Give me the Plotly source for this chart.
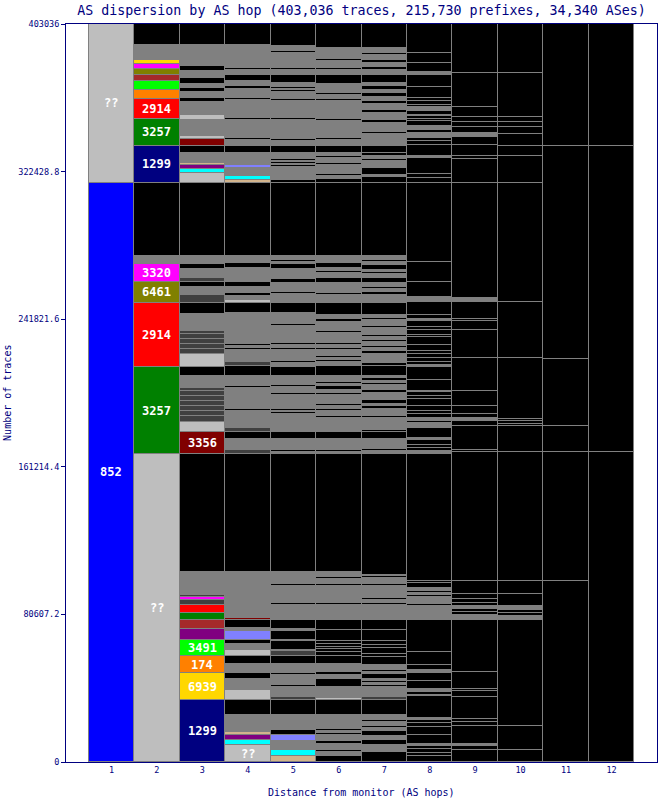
import plotly.graph_objects as go

# ---------------- data (traces per AS segment, bottom -> top, per hop) ----------------
hops = list(range(1, 13))
hop_tick_labels = [str(h) for h in hops]
total_traces = 403036
y_tick_values = [0, 80607.2, 161214.4, 241821.6, 322428.8, 403036]
y_tick_labels = ["0", "80607.2", "161214.4", "241821.6", "322428.8", "403036"]

hop1 = [(316260, "852"), (86780, "??")]

hop2 = [(168360, "??"), (47100, "3257"), (35310, "2914"), (11300, "6461"), (9715, "3320"),
        (1092, "small"), (546, "dark"), (3000, "small"), (39840, "other"),
        (20360, "1299"), (14410, "3257"), (10915, "2914"), (5240, "174"), (4585, "3491"),
        (3600, "brown"), (3275, "6461"), (2400, "3320"), (2183, "6939"), (1255, "small"),
        (546, "dark"), (6550, "small"), (11600, "other")]

hop3 = [(33730, "1299"), (14735, "6939"), (9496, "174"), (8514, "3491"), (6003, "purple"),
        (4912, "brown"), (4202, "3257"), (3984, "2914"), (3111, "dark"), (1255, "3320"),
        (1474, "dark"), (546, "6461"), (11843, "small"), (64563, "other"),
        (11843, "3356"), (5621, "??"),
        (3275, "dark"), (2729, "dark"), (2729, "dark"), (2729, "dark"), (2729, "dark"),
        (2729, "dark"), (1637, "dark"),
        (6167, "small"), (4912, "other"), (7477, "??"),
        (2729, "dark"), (2729, "dark"), (2729, "dark"), (2729, "dark"), (1255, "dark"),
        (9660, "small"), (6167, "other"), (4202, "dark"), (4530, "small"), (2729, "other"),
        (2019, "dark"), (546, "??"), (4202, "small"), (2620, "other"), (4639, "small"),
        (39840, "other"),
        (5621, "??"), (2019, "cyan"), (2183, "purple"), (928, "tan"), (5785, "small"),
        (3820, "other"), (3657, "3356"), (1801, "??"), (8568, "small"), (2729, "??"),
        (7259, "small"), (2019, "other"), (3275, "small"), (2183, "other"), (2183, "small"),
        (3275, "other"), (3820, "small"), (2729, "other"), (11461, "small"), (11600, "other")]

hop4 = [(9278, "??"), (2729, "cyan"), (2729, "purple"), (1910, "tan"), (819, "small"),
        (546, "dark"), (7913, "small"), (7804, "other"), (5567, "??"), (6276, "small"),
        (3111, "other"), (5075, "small"), (3984, "other"), (3275, "??"), (3657, "small"),
        (2183, "other"), (4912, "slate"), (1474, "small"), (4530, "other"), (819, "3356"),
        (3820, "small"), (546, "??"), (3275, "small"), (546, "dark"), (3820, "small"),
        (546, "dark"), (12661, "small"), (64563, "other"),
        (2183, "dark"), (546, "??"), (5294, "small"), (3711, "other"), (2292, "dark"),
        (9060, "small"), (1092, "other"), (2019, "small"), (546, "dark"), (9278, "small"),
        (1092, "other"), (5458, "small"), (5075, "other"), (2565, "dark"), (6549, "small"),
        (1092, "other"), (819, "small"), (1092, "other"), (17027, "small"), (5785, "other"),
        (1474, "??"), (2183, "small"), (1364, "other"), (3547, "small"), (2729, "other"),
        (7641, "small"), (2565, "other"), (3984, "small"), (39840, "other"),
        (1801, "tan"), (2183, "cyan"), (4366, "small"), (1637, "slate"), (6549, "small"),
        (3820, "other"), (3111, "small"), (1092, "other"), (9824, "small"), (1092, "other"),
        (9824, "small"), (1092, "other"), (4912, "small"), (1364, "other"), (3002, "small"),
        (3002, "other"), (3002, "small"), (1092, "other"), (12553, "small"), (11600, "other")]

hop5 = [(3275, "tan"), (3275, "cyan"), (5185, "small"), (3002, "slate"), (2729, "other"),
        (8459, "small"), (7804, "other"), (1746, "dark"), (5458, "small"), (1092, "other"),
        (5730, "small"), (1092, "other"), (4748, "small"), (4148, "other"), (2729, "dark"),
        (928, "??"), (4912, "other"), (546, "small"), (4639, "other"), (1092, "small"),
        (5185, "other"), (8186, "small"), (1092, "other"), (9278, "small"), (1092, "other"),
        (6385, "small"), (64563, "other"),
        (819, "small"), (1092, "other"), (6112, "small"), (3711, "other"), (819, "dark"),
        (9278, "small"), (1092, "other"), (546, "small"), (1092, "other"), (7641, "small"),
        (1092, "other"), (3002, "small"), (1092, "other"), (5185, "small"), (4748, "other"),
        (2074, "small"), (1092, "other"), (6276, "small"), (1092, "other"), (1637, "small"),
        (1092, "other"), (9278, "small"), (1092, "other"), (5840, "small"), (5621, "other"),
        (4639, "small"), (1092, "other"), (5348, "small"), (2019, "other"), (5458, "small"),
        (2456, "other"), (1364, "small"), (1092, "other"), (2183, "small"), (39840, "other"),
        (1637, "other"), (7095, "small"), (1092, "other"), (546, "small"), (1092, "other"),
        (546, "small"), (1092, "other"), (3438, "small"), (3820, "other"), (2565, "small"),
        (1092, "other"), (10096, "small"), (1092, "other"), (9551, "small"), (1092, "other"),
        (3820, "small"), (1092, "other"), (546, "small"), (1092, "other"), (2183, "small"),
        (4366, "other"), (2729, "small"), (1092, "other"), (8186, "small"), (1092, "other"),
        (2729, "small"), (12200, "other")]

hop6 = [(3547, "other"), (2183, "small"), (1092, "other"), (3275, "small"), (1637, "other"),
        (3275, "small"), (1092, "other"), (1092, "small"), (1092, "other"), (7641, "small"),
        (7804, "other"), (1474, "??"), (5730, "small"), (4475, "other"), (2347, "small"),
        (1637, "other"), (4366, "small"), (3984, "other"), (2565, "other"), (1474, "other"),
        (1092, "other"), (1637, "other"), (1801, "other"), (5730, "other"), (5730, "other"),
        (8186, "small"), (1092, "other"), (9278, "small"), (1092, "other"), (2565, "small"),
        (1092, "other"), (2729, "small"), (64563, "other"),
        (1092, "small"), (1092, "other"), (5840, "small"), (3711, "other"), (7913, "small"),
        (1092, "other"), (2729, "small"), (1092, "other"), (1364, "small"), (1092, "other"),
        (4912, "small"), (1364, "other"), (1637, "small"), (1910, "other"), (1092, "small"),
        (1364, "other"), (3275, "small"), (5075, "other"), (2292, "small"), (1092, "other"),
        (1092, "small"), (1092, "other"), (3547, "small"), (1092, "other"), (1637, "small"),
        (1092, "other"), (5458, "small"), (1092, "other"), (4530, "small"), (1856, "other"),
        (2347, "small"), (6385, "other"), (4530, "small"), (1092, "other"), (5621, "small"),
        (2401, "other"), (2892, "small"), (819, "other"), (1637, "small"), (3165, "other"),
        (3657, "small"), (39840, "other"),
        (1910, "other"), (1637, "small"), (1092, "other"), (5185, "small"), (1092, "other"),
        (2456, "small"), (1092, "other"), (2074, "small"), (3820, "other"), (3111, "small"),
        (1092, "other"), (9278, "small"), (1092, "other"), (9824, "small"), (1092, "other"),
        (2183, "small"), (1092, "other"), (4912, "small"), (4912, "other"), (2729, "small"),
        (1092, "other"), (3820, "small"), (1092, "other"), (5840, "small"), (13400, "other")]

hop7 = [(5730, "other"), (3820, "small"), (2729, "other"), (2183, "small"), (2456, "other"),
        (1910, "small"), (1092, "other"), (2183, "small"), (1092, "other"), (2729, "small"),
        (7804, "other"), (1637, "dark"), (5567, "small"), (1092, "other"), (1364, "small"),
        (1092, "other"), (1092, "small"), (2456, "other"), (1364, "small"), (1092, "other"),
        (2729, "small"), (4366, "other"), (1637, "other"), (3275, "other"), (1637, "other"),
        (2183, "other"), (6003, "other"), (5458, "other"), (8186, "small"), (1092, "other"),
        (1364, "small"), (1092, "other"), (6549, "small"), (1364, "other"), (3002, "small"),
        (1092, "other"), (819, "small"), (66036, "other"),
        (1364, "small"), (1092, "other"), (5567, "small"), (3711, "other"), (1092, "other"),
        (6822, "small"), (1092, "other"), (3820, "small"), (1637, "other"), (1092, "small"),
        (2183, "other"), (3547, "small"), (1637, "other"), (3002, "small"), (1092, "other"),
        (819, "small"), (1910, "other"), (1092, "small"), (5075, "other"), (2019, "other"),
        (4912, "small"), (1364, "other"), (1910, "small"), (1092, "other"), (2183, "small"),
        (1092, "other"), (1364, "small"), (1364, "other"), (3820, "small"), (1092, "other"),
        (3275, "small"), (1092, "other"), (1637, "small"), (6385, "other"), (4530, "small"),
        (1364, "other"), (1910, "small"), (1092, "other"), (2347, "small"), (2292, "other"),
        (2456, "small"), (1092, "other"), (819, "small"), (3002, "other"), (1637, "small"),
        (1092, "other"), (2183, "small"), (39840, "other"),
        (3275, "other"), (1092, "small"), (3820, "other"), (3820, "small"), (1092, "other"),
        (1637, "small"), (1801, "other"), (3820, "other"), (6385, "small"), (1092, "other"),
        (4912, "small"), (1364, "other"), (4093, "small"), (1637, "other"), (3275, "small"),
        (1637, "other"), (2183, "small"), (2183, "other"), (1637, "small"), (2183, "other"),
        (1637, "small"), (4366, "other"), (2729, "small"), (1637, "other"), (2183, "small"),
        (1637, "other"), (2729, "small"), (1092, "other"), (2729, "small"), (13300, "other")]

hop8 = [(3547, "other"), (1637, "other"), (1910, "other"), (1528, "other"), (1310, "small"),
        (5075, "other"), (3984, "other"), (2401, "other"), (1419, "other"), (1310, "small"),
        (11788, "other"), (928, "small"), (1255, "other"), (1856, "small"), (4148, "other"),
        (4584, "other"), (1801, "small"), (2347, "other"), (7313, "other"), (17628, "other"),
        (7259, "small"), (1474, "other"), (1255, "small"), (928, "other"), (1474, "small"),
        (1255, "other"), (928, "small"), (873, "other"), (1856, "small"), (2729, "other"),
        (873, "other"), (69692, "other"),
        (1637, "small"), (1474, "other"), (1801, "other"), (2347, "other"), (1092, "small"),
        (5676, "other"), (2729, "small"), (873, "other"), (1856, "small"), (2347, "other"),
        (1255, "other"), (2729, "other"), (4039, "other"), (1419, "other"), (2183, "other"),
        (928, "small"), (6003, "other"), (6931, "other"), (1255, "small"), (1255, "other"),
        (2401, "other"), (2347, "other"), (1255, "other"), (3657, "other"), (3984, "other"),
        (1474, "other"), (2729, "other"), (1474, "other"), (3056, "other"), (1474, "small"),
        (2183, "other"), (7259, "other"), (1856, "small"), (873, "other"), (7859, "other"),
        (10915, "other"), (43278, "other"),
        (2565, "other"), (2183, "other"), (8732, "other"), (1092, "small"), (5894, "other"),
        (2183, "other"), (1856, "other"), (2729, "small"), (1419, "other"), (2565, "small"),
        (2347, "other"), (1474, "other"), (1255, "other"), (928, "small"), (1801, "other"),
        (2401, "small"), (1255, "other"), (1801, "other"), (2019, "other"), (5840, "other"),
        (6713, "other"), (1255, "small"), (5130, "other"), (5458, "other"), (16000, "other")]

hop9 = [(6822, "other"), (2183, "other"), (1092, "small"), (9442, "other"), (2183, "other"),
        (1856, "other"), (12007, "other"), (3056, "other"), (1310, "other"), (9278, "other"),
        (28543, "other"), (2729, "small"), (1255, "other"), (1856, "other"), (1419, "small"),
        (1856, "other"), (2183, "other"), (2892, "other"), (6713, "other"), (70511, "other"),
        (1364, "other"), (12716, "other"), (2729, "other"), (1856, "small"), (2347, "other"),
        (3984, "other"), (8186, "other"), (18228, "other"), (15445, "other"), (4530, "other"),
        (1474, "other"), (9442, "other"), (1856, "small"), (62924, "other"),
        (12934, "other"), (1801, "other"), (5730, "other"), (4475, "other"), (2183, "small"),
        (3275, "other"), (2729, "other"), (3056, "other"), (5130, "other"), (18556, "other"),
        (27200, "other")]

hop10 = [(6822, "other"), (12716, "other"), (57850, "other"), (2565, "small"), (1474, "other"),
         (1801, "other"), (1801, "small"), (6767, "other"), (6876, "other"), (70402, "other"),
         (14190, "other"), (1200, "other"), (1528, "other"), (1474, "other"), (33127, "other"),
         (30889, "other"), (64781, "other"),
         (14735, "other"), (5621, "other"), (6222, "other"), (3820, "other"), (2729, "other"),
         (3056, "other"), (23686, "other"), (27200, "other")]

hop11 = [(98672, "other"), (70402, "other"), (14572, "other"), (36565, "other"),
         (116409, "other"), (66600, "other")]

hop12 = [(169073, "other"), (167545, "other"), (66600, "other")]

columns = [hop1, hop2, hop3, hop4, hop5, hop6, hop7, hop8, hop9, hop10, hop11, hop12]

# ---------------- styles ----------------
as_colors = {
    "852": "#0000ff", "??": "#bebebe", "1299": "#000080", "3257": "#008000",
    "2914": "#ff0000", "6461": "#808000", "3320": "#ff00ff", "3356": "#800000",
    "3491": "#00ff00", "174": "#ff8000", "6939": "#ffd700", "brown": "#a52a2a",
    "purple": "#800080", "cyan": "#00ffff", "tan": "#d2b48c", "slate": "#8080ff",
    "small": "#808080", "dark": "#404040", "other": "#000000",
}
unnamed = {"brown", "purple", "cyan", "tan", "slate", "small", "dark", "other"}
NAVY = "#000080"
MONO = "DejaVu Sans Mono"

fig = go.Figure()
max_len = max(len(c) for c in columns)
for i in range(max_len):
    xs, ys, cs = [], [], []
    for h, col in zip(hops, columns):
        if i < len(col):
            xs.append(h)
            ys.append(col[i][0])
            cs.append(as_colors[col[i][1]])
    fig.add_trace(go.Bar(
        x=xs, y=ys, width=1.0,
        marker=dict(color=cs, line=dict(color="#808080", width=1)),
        hoverinfo="skip", showlegend=False,
    ))

annotations = []
for h, col in zip(hops, columns):
    base = 0
    for count, asn in col:
        if asn not in unnamed and count >= 8000:
            annotations.append(dict(
                x=h, y=base + count / 2, xref="x", yref="y", text="<b>%s</b>" % asn,
                showarrow=False, font=dict(family=MONO, size=12, color="white"),
                xanchor="center", yanchor="middle"))
        base += count

annotations.append(dict(
    x=-0.1, y=0.5, xref="paper", yref="paper", text="Number of traces",
    textangle=-90, showarrow=False, xanchor="center", yanchor="middle",
    font=dict(family=MONO, size=10, color=NAVY)))
annotations.append(dict(
    x=0.5, y=-0.042, xref="paper", yref="paper", text="Distance from monitor (AS hops)",
    showarrow=False, xanchor="center", yanchor="middle",
    font=dict(family=MONO, size=10, color=NAVY)))

fig.update_layout(
    width=659, height=800,
    margin=dict(l=66, r=2, t=24, b=38, pad=0),
    barmode="stack", bargap=0,
    plot_bgcolor="white", paper_bgcolor="white",
    title=dict(text="AS dispersion by AS hop (403,036 traces, 215,730 prefixes, 34,340 ASes)",
               x=0.5, xref="paper", xanchor="center", y=0.9875, yref="container",
               yanchor="middle", font=dict(family=MONO, size=13.3, color=NAVY)),
    annotations=annotations,
    xaxis=dict(range=[0, 13], tickvals=hops, ticktext=hop_tick_labels, ticks="",
               showgrid=False, zeroline=False, showline=True, mirror=True,
               linecolor=NAVY, linewidth=1,
               tickfont=dict(family=MONO, size=8.5, color=NAVY)),
    yaxis=dict(range=[0, total_traces], tickvals=y_tick_values, ticktext=y_tick_labels,
               ticks="outside", ticklen=4, tickcolor=NAVY, tickwidth=1,
               showgrid=False, zeroline=False, showline=True, mirror=True,
               linecolor=NAVY, linewidth=1,
               tickfont=dict(family=MONO, size=8.5, color=NAVY)),
)

fig.write_html("out.html", config={"displayModeBar": False},
               post_script="document.body.style.margin='0';document.body.style.overflow='hidden';")
